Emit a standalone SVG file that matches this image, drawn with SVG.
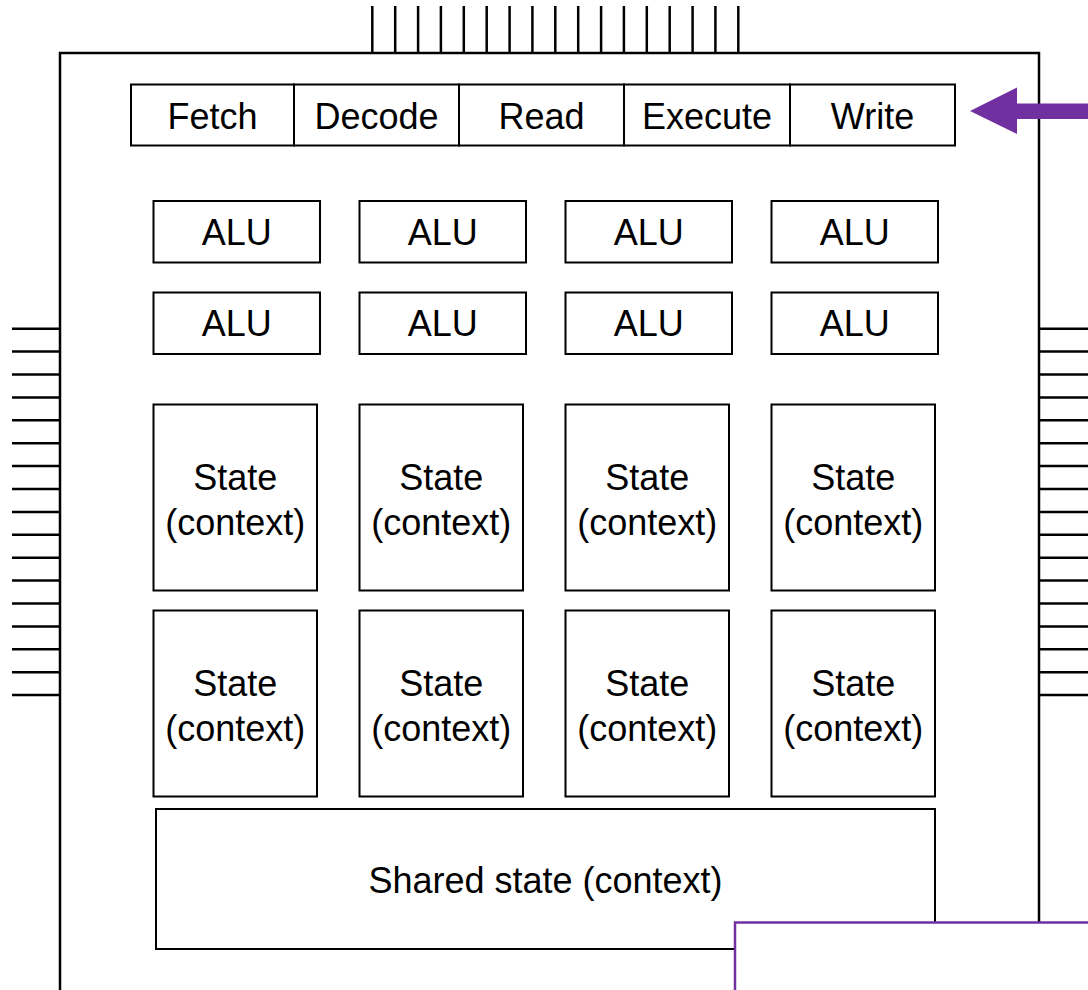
<svg xmlns="http://www.w3.org/2000/svg" width="1088" height="990" viewBox="0 0 1088 990">
  <style>
    .box { fill: #ffffff; stroke: #000000; stroke-width: 2; }
    .chip { fill: #ffffff; stroke: #000000; stroke-width: 2.5; }
    .pin { stroke: #000000; stroke-width: 2.5; }
    .lbl { font-family: "Liberation Sans", Arial, Helvetica, sans-serif; font-size: 36px; fill: #000000; text-anchor: middle; }
    .hl { fill: #ffffff; stroke: #7030A0; stroke-width: 2.5; }
  </style>
  <defs>
    <line id="vpin" class="pin" x1="0" y1="6" x2="0" y2="53"/>
    <line id="lpin" class="pin" x1="12" y1="0" x2="60" y2="0"/>
    <line id="rpin" class="pin" x1="1040" y1="0" x2="1088" y2="0"/>
  </defs>

  <!-- package pins -->
  <g id="pins-top">
    <use href="#vpin" x="372.3"/><use href="#vpin" x="395.2"/><use href="#vpin" x="418.1"/><use href="#vpin" x="440.9"/>
    <use href="#vpin" x="463.8"/><use href="#vpin" x="486.7"/><use href="#vpin" x="509.6"/><use href="#vpin" x="532.4"/>
    <use href="#vpin" x="555.3"/><use href="#vpin" x="578.2"/><use href="#vpin" x="601.1"/><use href="#vpin" x="623.9"/>
    <use href="#vpin" x="646.8"/><use href="#vpin" x="669.7"/><use href="#vpin" x="692.6"/><use href="#vpin" x="715.4"/>
    <use href="#vpin" x="738.3"/>
  </g>
  <g id="pins-left">
    <use href="#lpin" y="328.7"/><use href="#lpin" y="351.6"/><use href="#lpin" y="374.5"/><use href="#lpin" y="397.4"/>
    <use href="#lpin" y="420.3"/><use href="#lpin" y="443.2"/><use href="#lpin" y="466.1"/><use href="#lpin" y="489.0"/>
    <use href="#lpin" y="511.9"/><use href="#lpin" y="534.8"/><use href="#lpin" y="557.7"/><use href="#lpin" y="580.6"/>
    <use href="#lpin" y="603.5"/><use href="#lpin" y="626.4"/><use href="#lpin" y="649.3"/><use href="#lpin" y="672.2"/>
    <use href="#lpin" y="695.1"/>
  </g>
  <g id="pins-right">
    <use href="#rpin" y="328.7"/><use href="#rpin" y="351.6"/><use href="#rpin" y="374.5"/><use href="#rpin" y="397.4"/>
    <use href="#rpin" y="420.3"/><use href="#rpin" y="443.2"/><use href="#rpin" y="466.1"/><use href="#rpin" y="489.0"/>
    <use href="#rpin" y="511.9"/><use href="#rpin" y="534.8"/><use href="#rpin" y="557.7"/><use href="#rpin" y="580.6"/>
    <use href="#rpin" y="603.5"/><use href="#rpin" y="626.4"/><use href="#rpin" y="649.3"/><use href="#rpin" y="672.2"/>
    <use href="#rpin" y="695.1"/>
  </g>

  <!-- chip outline -->
  <g id="chip">
    <rect class="chip" x="60" y="53" width="979" height="960"/>
  </g>

  <!-- instruction pipeline -->
  <g id="pipeline">
    <rect class="box" x="131" y="84.5" width="163" height="61"/>
    <text class="lbl" x="212.5" y="129">Fetch</text>
    <rect class="box" x="294" y="84.5" width="165" height="61"/>
    <text class="lbl" x="376.5" y="129">Decode</text>
    <rect class="box" x="459" y="84.5" width="165" height="61"/>
    <text class="lbl" x="541.5" y="129">Read</text>
    <rect class="box" x="624" y="84.5" width="166" height="61"/>
    <text class="lbl" x="707" y="129">Execute</text>
    <rect class="box" x="790" y="84.5" width="165" height="61"/>
    <text class="lbl" x="872.5" y="129">Write</text>
  </g>

  <!-- ALUs -->
  <g id="alu-1-1"><rect class="box" x="153.5" y="201" width="166.5" height="61.5"/><text class="lbl" x="236.7" y="245">ALU</text></g>
  <g id="alu-1-2"><rect class="box" x="359.5" y="201" width="166.5" height="61.5"/><text class="lbl" x="442.7" y="245">ALU</text></g>
  <g id="alu-1-3"><rect class="box" x="565.5" y="201" width="166.5" height="61.5"/><text class="lbl" x="648.7" y="245">ALU</text></g>
  <g id="alu-1-4"><rect class="box" x="771.5" y="201" width="166.5" height="61.5"/><text class="lbl" x="854.7" y="245">ALU</text></g>
  <g id="alu-2-1"><rect class="box" x="153.5" y="292.5" width="166.5" height="61.5"/><text class="lbl" x="236.7" y="336">ALU</text></g>
  <g id="alu-2-2"><rect class="box" x="359.5" y="292.5" width="166.5" height="61.5"/><text class="lbl" x="442.7" y="336">ALU</text></g>
  <g id="alu-2-3"><rect class="box" x="565.5" y="292.5" width="166.5" height="61.5"/><text class="lbl" x="648.7" y="336">ALU</text></g>
  <g id="alu-2-4"><rect class="box" x="771.5" y="292.5" width="166.5" height="61.5"/><text class="lbl" x="854.7" y="336">ALU</text></g>

  <!-- per-thread state -->
  <g id="state-1-1"><rect class="box" x="153.5" y="404.5" width="163.5" height="186"/><text class="lbl" x="235.2" y="490">State</text><text class="lbl" x="235.2" y="534.5">(context)</text></g>
  <g id="state-1-2"><rect class="box" x="359.5" y="404.5" width="163.5" height="186"/><text class="lbl" x="441.2" y="490">State</text><text class="lbl" x="441.2" y="534.5">(context)</text></g>
  <g id="state-1-3"><rect class="box" x="565.5" y="404.5" width="163.5" height="186"/><text class="lbl" x="647.2" y="490">State</text><text class="lbl" x="647.2" y="534.5">(context)</text></g>
  <g id="state-1-4"><rect class="box" x="771.5" y="404.5" width="163.5" height="186"/><text class="lbl" x="853.2" y="490">State</text><text class="lbl" x="853.2" y="534.5">(context)</text></g>
  <g id="state-2-1"><rect class="box" x="153.5" y="610.5" width="163.5" height="186"/><text class="lbl" x="235.2" y="696">State</text><text class="lbl" x="235.2" y="740.5">(context)</text></g>
  <g id="state-2-2"><rect class="box" x="359.5" y="610.5" width="163.5" height="186"/><text class="lbl" x="441.2" y="696">State</text><text class="lbl" x="441.2" y="740.5">(context)</text></g>
  <g id="state-2-3"><rect class="box" x="565.5" y="610.5" width="163.5" height="186"/><text class="lbl" x="647.2" y="696">State</text><text class="lbl" x="647.2" y="740.5">(context)</text></g>
  <g id="state-2-4"><rect class="box" x="771.5" y="610.5" width="163.5" height="186"/><text class="lbl" x="853.2" y="696">State</text><text class="lbl" x="853.2" y="740.5">(context)</text></g>

  <!-- shared state -->
  <g id="shared-state">
    <rect class="box" x="156" y="809" width="779" height="140"/>
    <text class="lbl" x="545.5" y="893">Shared state (context)</text>
  </g>

  <!-- highlight panel -->
  <g id="panel">
    <rect class="hl" x="735" y="922.5" width="400" height="100"/>
  </g>

  <!-- connectors -->
  <g id="connectors">
    <polygon fill="#7030A0" points="970,111 1017,87.5 1017,103.5 1088,103.5 1088,119 1017,119 1017,134"/>
  </g>
</svg>
